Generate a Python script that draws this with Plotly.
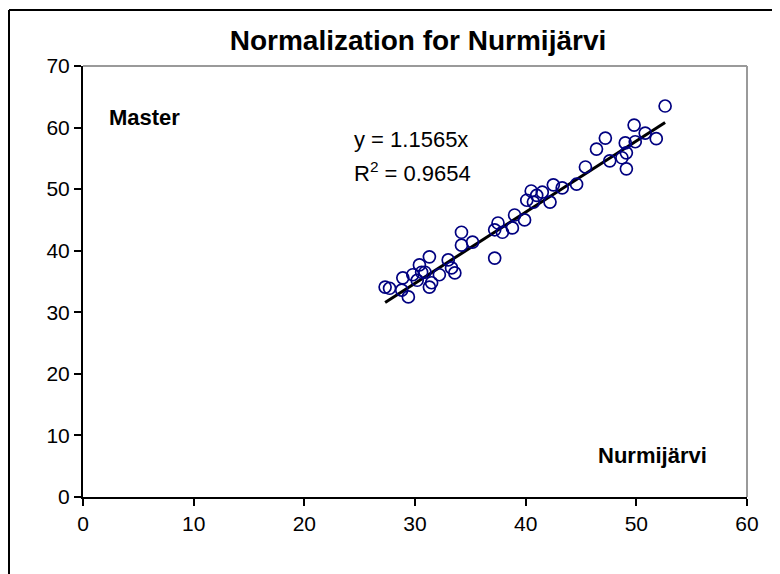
import plotly.graph_objects as go

# Nurmijärvi (x) vs Master (y) readings
nurmijarvi = [
    52.6, 49.8, 50.8, 51.8, 47.2, 46.4, 49.0, 49.9, 49.1, 48.7, 47.6, 49.1, 45.4, 44.6,
    40.5, 41.0, 41.5, 42.5, 43.3, 40.1, 40.7, 42.2, 39.0, 39.9, 38.8, 37.5, 37.2, 37.9,
    35.2, 37.2, 34.2, 34.2,
    27.3, 27.7, 28.8, 29.4, 28.9, 29.8, 30.4, 31.3, 30.9, 31.5, 31.3, 32.2, 33.0, 33.3,
    33.6, 30.2, 30.6,
]
master = [
    63.5, 60.4, 59.1, 58.2, 58.3, 56.5, 57.5, 57.7, 55.9, 55.1, 54.6, 53.3, 53.6, 50.8,
    49.7, 49.0, 49.5, 50.7, 50.2, 48.2, 47.9, 47.9, 45.8, 45.0, 43.7, 44.5, 43.4, 43.0,
    41.4, 38.8, 43.0, 40.9,
    34.1, 33.9, 33.6, 32.5, 35.6, 36.1, 37.7, 39.0, 36.5, 34.8, 34.1, 36.1, 38.5, 37.2,
    36.4, 35.2, 36.5,
]
slope = 1.1565
r_squared = 0.9654

x_ticks = [0, 10, 20, 30, 40, 50, 60]
y_ticks = [0, 10, 20, 30, 40, 50, 60, 70]

FONT = "Arial, Liberation Sans, sans-serif"

x_fit = [min(nurmijarvi), max(nurmijarvi)]
y_fit = [slope * v for v in x_fit]

fig = go.Figure()
fig.add_trace(go.Scatter(
    x=x_fit, y=y_fit, mode="lines",
    line=dict(color="black", width=3), hoverinfo="skip",
))
fig.add_trace(go.Scatter(
    x=nurmijarvi, y=master, mode="markers",
    marker=dict(symbol="circle-open", size=12, color="#000080", line=dict(width=1.7, color="#000080")),
))

# the page body adds an 8px offset, so target pixels are shifted back by OFF
OFF = 8
W, H = 780, 574
L, T = 83 - OFF, 66 - OFF
R, B = W - (747 - OFF), H - (497 - OFF)
pw, ph = W - L - R, H - T - B


def px(x):
    return (x - OFF - L) / pw


def py(y):
    return (H - B - (y - OFF)) / ph


shapes = [
    # outer chart border (left and top visible)
    dict(type="line", xref="paper", yref="paper", x0=px(9), x1=px(9), y0=py(620), y1=py(10),
         line=dict(color="black", width=2)),
    dict(type="line", xref="paper", yref="paper", x0=px(9), x1=px(820), y0=py(10), y1=py(10),
         line=dict(color="black", width=2)),
    # plot area top / right in grey
    dict(type="line", xref="paper", yref="paper", x0=0, x1=1, y0=1, y1=1,
         line=dict(color="#9a9a9a", width=2)),
    dict(type="line", xref="paper", yref="paper", x0=1, x1=1, y0=0, y1=1,
         line=dict(color="#9a9a9a", width=2)),
]

annotations = [
    dict(x=2.2, y=61.7, text="<b>Master</b>", xanchor="left", yanchor="middle",
         showarrow=False, font=dict(size=22, color="black", family=FONT)),
    dict(x=56.6, y=6.8, text="<b>Nurmijärvi</b>", xanchor="right", yanchor="middle",
         showarrow=False, font=dict(size=22, color="black", family=FONT)),
    dict(x=24.3, y=58.0, text=f"y = {slope}x", xanchor="left", yanchor="middle",
         showarrow=False, font=dict(size=22, color="black", family=FONT)),
    dict(x=24.3, y=52.8, text=f"R<sup>2</sup> = {r_squared}", xanchor="left", yanchor="middle",
         showarrow=False, font=dict(size=22, color="black", family=FONT)),
]

fig.update_layout(
    width=W, height=H,
    margin=dict(l=L, r=R, t=T, b=B),
    paper_bgcolor="white", plot_bgcolor="white",
    showlegend=False,
    font=dict(family=FONT, color="black", size=21),
    title=dict(text="<b>Normalization for Nurmijärvi</b>", xref="container", x=(418 - OFF) / W,
               xanchor="center", y=1 - (40 - OFF) / H, yanchor="middle",
               font=dict(size=28, color="black", family=FONT)),
    xaxis=dict(range=[0, 60], tickvals=x_ticks, showgrid=False, zeroline=False,
               showline=True, linecolor="black", linewidth=2,
               ticks="outside", ticklen=7, tickwidth=2, tickcolor="black",
               tickfont=dict(size=21), fixedrange=True),
    yaxis=dict(range=[0, 70], tickvals=y_ticks, showgrid=False, zeroline=False,
               showline=True, linecolor="black", linewidth=2,
               ticks="outside", ticklen=7, tickwidth=2, tickcolor="black",
               tickfont=dict(size=21), fixedrange=True),
    shapes=shapes,
    annotations=annotations,
)

fig.write_html("out.html")
